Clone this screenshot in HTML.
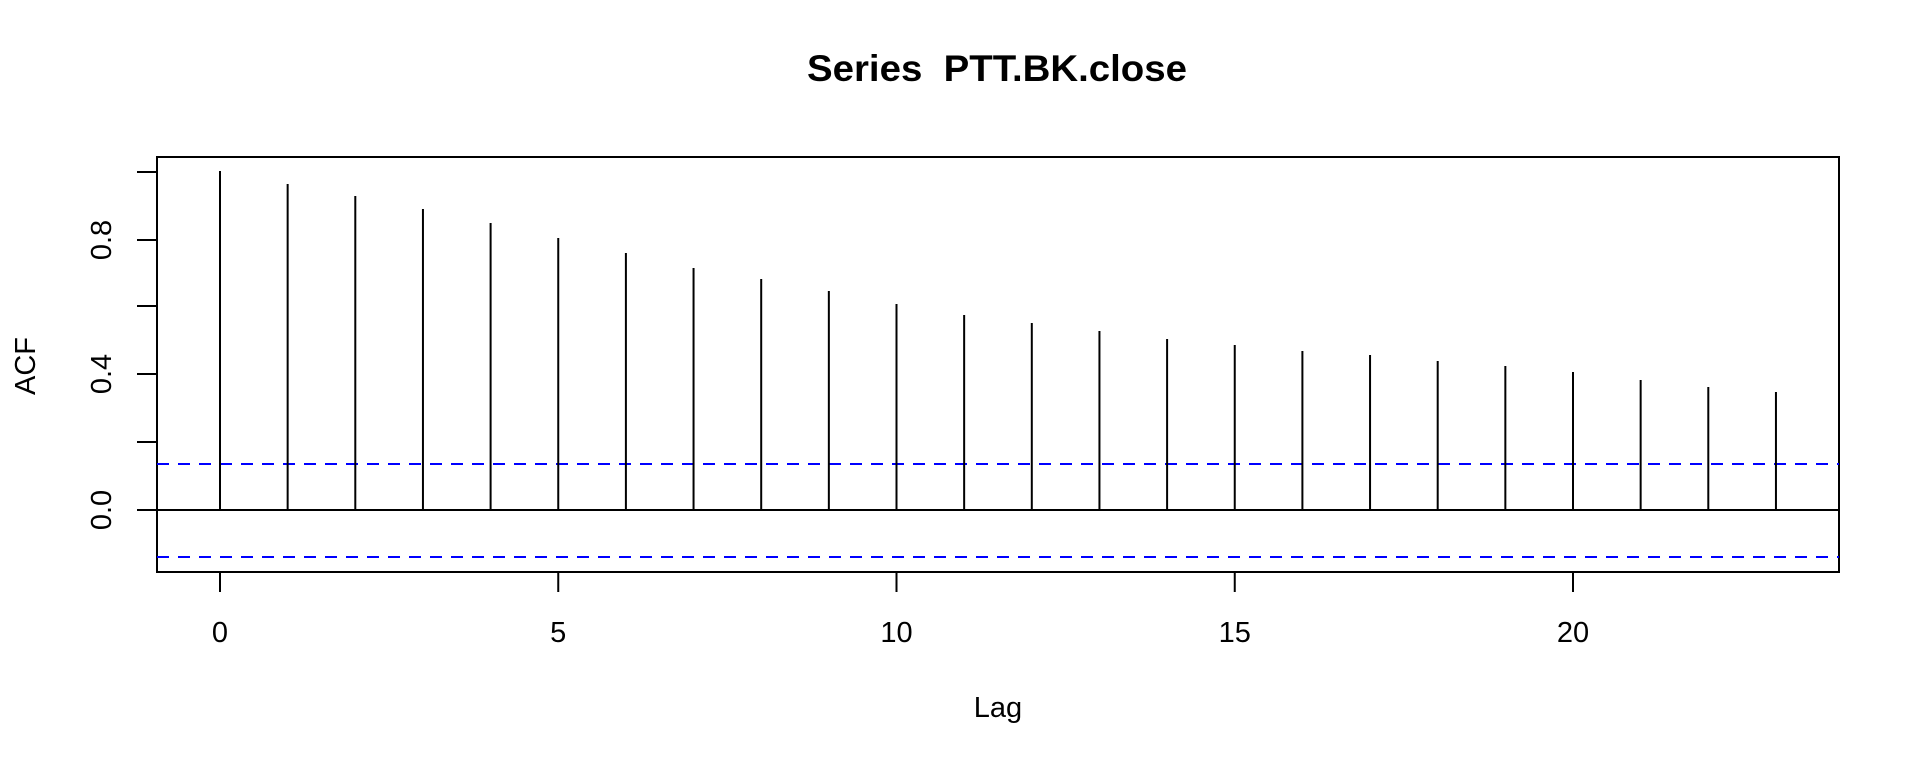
<!DOCTYPE html>
<html><head><meta charset="utf-8"><style>html,body{margin:0;padding:0;background:#fff}svg{display:block}</style></head>
<body>
<svg width="1920" height="768" xmlns="http://www.w3.org/2000/svg" font-family="Liberation Sans, Arial, sans-serif">
<text x="997" y="81" font-size="37" font-weight="bold" text-anchor="middle" textLength="380" lengthAdjust="spacingAndGlyphs">Series&#160;&#160;PTT.BK.close</text>
<rect x="157" y="157" width="1682" height="415" fill="none" stroke="#000" stroke-width="2"/>
<line x1="157" y1="510" x2="1839" y2="510" stroke="#000" stroke-width="2"/>
<g stroke="#00f" stroke-width="2" stroke-dasharray="12,9">
<line x1="157" y1="464" x2="1839" y2="464"/>
<line x1="157" y1="557" x2="1839" y2="557"/>
</g>
<g stroke="#000" stroke-width="2">
<line x1="220" y1="510" x2="220" y2="171"/>
<line x1="287.65" y1="510" x2="287.65" y2="184"/>
<line x1="355.3" y1="510" x2="355.3" y2="196"/>
<line x1="422.95" y1="510" x2="422.95" y2="209"/>
<line x1="490.6" y1="510" x2="490.6" y2="223"/>
<line x1="558.25" y1="510" x2="558.25" y2="238"/>
<line x1="625.9" y1="510" x2="625.9" y2="253"/>
<line x1="693.55" y1="510" x2="693.55" y2="268"/>
<line x1="761.2" y1="510" x2="761.2" y2="279"/>
<line x1="828.85" y1="510" x2="828.85" y2="291"/>
<line x1="896.5" y1="510" x2="896.5" y2="304"/>
<line x1="964.15" y1="510" x2="964.15" y2="315"/>
<line x1="1031.8" y1="510" x2="1031.8" y2="323"/>
<line x1="1099.45" y1="510" x2="1099.45" y2="331"/>
<line x1="1167.1" y1="510" x2="1167.1" y2="339"/>
<line x1="1234.75" y1="510" x2="1234.75" y2="345"/>
<line x1="1302.4" y1="510" x2="1302.4" y2="351"/>
<line x1="1370.05" y1="510" x2="1370.05" y2="355"/>
<line x1="1437.7" y1="510" x2="1437.7" y2="361"/>
<line x1="1505.35" y1="510" x2="1505.35" y2="366"/>
<line x1="1573" y1="510" x2="1573" y2="372"/>
<line x1="1640.65" y1="510" x2="1640.65" y2="380"/>
<line x1="1708.3" y1="510" x2="1708.3" y2="387"/>
<line x1="1775.95" y1="510" x2="1775.95" y2="392"/>
<line x1="137" y1="510" x2="157" y2="510"/>
<line x1="137" y1="442" x2="157" y2="442"/>
<line x1="137" y1="374" x2="157" y2="374"/>
<line x1="137" y1="306" x2="157" y2="306"/>
<line x1="137" y1="240" x2="157" y2="240"/>
<line x1="137" y1="172" x2="157" y2="172"/>
<line x1="220" y1="572" x2="220" y2="592"/>
<line x1="558.25" y1="572" x2="558.25" y2="592"/>
<line x1="896.5" y1="572" x2="896.5" y2="592"/>
<line x1="1234.75" y1="572" x2="1234.75" y2="592"/>
<line x1="1573" y1="572" x2="1573" y2="592"/>
</g>
<g font-size="29" text-anchor="middle">
<text x="220" y="642">0</text>
<text x="558.25" y="642">5</text>
<text x="896.5" y="642">10</text>
<text x="1234.75" y="642">15</text>
<text x="1573" y="642">20</text>
<text x="998" y="717">Lag</text>
<text transform="translate(111,510) rotate(-90)">0.0</text>
<text transform="translate(111,374) rotate(-90)">0.4</text>
<text transform="translate(111,240) rotate(-90)">0.8</text>
<text transform="translate(35,366) rotate(-90)">ACF</text>
</g>
</svg>
</body></html>
